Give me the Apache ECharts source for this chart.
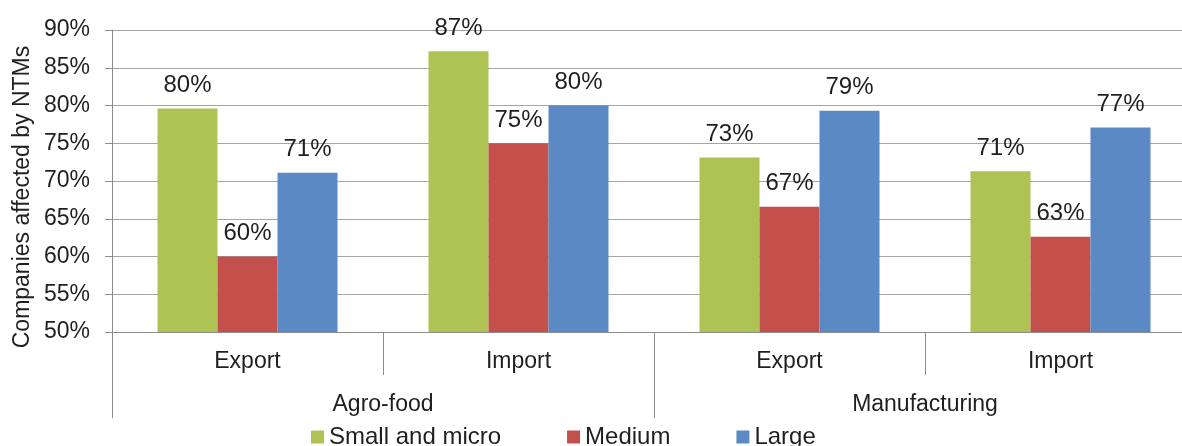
<!DOCTYPE html>
<html>
<head>
<meta charset="utf-8">
<script src="https://cdn.jsdelivr.net/npm/echarts@6/dist/echarts.min.js"></script>
<style>
  html, body { margin: 0; padding: 0; background: #fff; overflow: hidden; }
  /* plot area continues a little past the right edge of the window */
  #chart { width: 1196px; height: 446px; }
</style>
</head>
<body>
<div id="chart"></div>
<script>
// Share of companies affected by non-tariff measures, by sector, trade flow and size
const categories = ['Export', 'Import', 'Export', 'Import'];
const sectors = ['Agro-food', 'Manufacturing'];
const seriesNames = ['Small and micro', 'Medium', 'Large'];
const smallMicro = [79.6, 87.2, 73.1, 71.3];
const medium = [60.0, 75.0, 66.6, 62.6];
const large = [71.1, 80.0, 79.3, 77.1];
const yTicks = { min: 50, max: 90, interval: 5 };

const FONT = "'Liberation Sans', Arial, Helvetica, sans-serif";
const TEXT = '#1f1f1f';
const AXIS = '#8c8c8c';
const GRID = '#a6a6a6';
const colors = ['#AEC354', '#C4504C', '#5B89C4'];

const chart = echarts.init(document.getElementById('chart'), null, { renderer: 'canvas' });

function barSeries(name, values, color) {
  return {
    name: name,
    type: 'bar',
    xAxisIndex: 0,
    data: values,
    barWidth: 60,
    barGap: '0%',
    itemStyle: { color: color },
    label: {
      show: true,
      position: 'top',
      distance: 11,
      fontFamily: FONT,
      fontSize: 24,
      color: TEXT,
      formatter: p => Math.round(p.value) + '%'
    },
    emphasis: { disabled: true },
    animation: false
  };
}

chart.setOption({
  animation: false,
  color: colors,
  grid: { left: 112, right: 0, top: 30, bottom: 114, containLabel: false },
  legend: {
    data: seriesNames,
    left: 306,
    top: 420,
    icon: 'rect',
    itemWidth: 13,
    itemHeight: 13,
    itemGap: 66,
    textStyle: { fontFamily: FONT, fontSize: 24, color: TEXT }
  },
  xAxis: [
    {
      type: 'category',
      data: categories,
      position: 'bottom',
      axisLine: { show: true, lineStyle: { color: AXIS, width: 1 } },
      axisTick: { show: true, length: 43, lineStyle: { color: AXIS, width: 1 } },
      axisLabel: { margin: 18, fontFamily: FONT, fontSize: 23, color: TEXT },
      splitLine: { show: false }
    },
    {
      type: 'category',
      data: sectors,
      position: 'bottom',
      axisLine: { show: false },
      axisTick: { show: true, length: 86, lineStyle: { color: AXIS, width: 1 } },
      axisLabel: { margin: 61, fontFamily: FONT, fontSize: 23, color: TEXT },
      splitLine: { show: false }
    }
  ],
  yAxis: {
    type: 'value',
    min: yTicks.min,
    max: yTicks.max,
    interval: yTicks.interval,
    axisLine: { show: true, lineStyle: { color: AXIS, width: 1 } },
    axisTick: { show: true, length: 7, lineStyle: { color: AXIS } },
    axisLabel: { margin: 22, fontFamily: FONT, fontSize: 23, color: TEXT, formatter: '{value}%' },
    splitLine: { show: true, lineStyle: { color: GRID, width: 1 } }
  },
  graphic: [
    {
      type: 'text',
      x: 23,
      y: 197,
      rotation: Math.PI / 2,
      style: {
        text: 'Companies affected by NTMs',
        fontFamily: FONT,
        fontSize: 23,
        fill: TEXT,
        align: 'center',
        verticalAlign: 'middle'
      }
    }
  ],
  series: [
    barSeries(seriesNames[0], smallMicro, colors[0]),
    barSeries(seriesNames[1], medium, colors[1]),
    barSeries(seriesNames[2], large, colors[2])
  ]
});
</script>
</body>
</html>
